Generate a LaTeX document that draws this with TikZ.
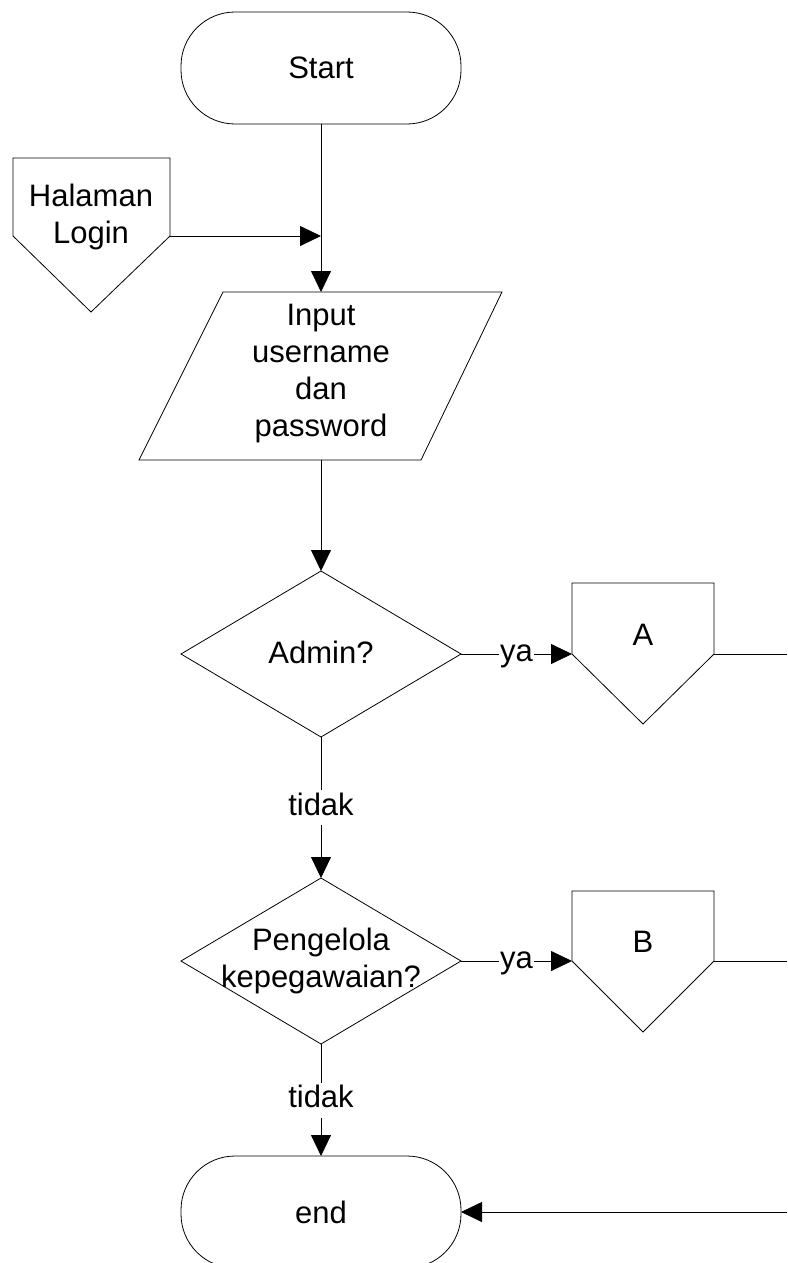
\documentclass[tikz,border=0pt]{standalone}
\usepackage{fontspec}
\setmainfont{Liberation Sans}
\usetikzlibrary{arrows.meta,shapes.geometric}
\begin{document}
\begin{tikzpicture}[x=1pt,y=-1pt, line width=0.8pt,
  every node/.style={font=\fontsize{31}{37}\selectfont},
  arr/.style={-{Triangle[length=21pt,width=20pt]}},
  term/.style={draw, rounded corners=54pt, minimum width=280pt, minimum height=112pt, inner sep=0pt, outer sep=0pt},
  dec/.style={draw, diamond, minimum width=280pt, minimum height=166pt, inner sep=0pt, outer sep=0pt},
  txt/.style={align=center, inner sep=0pt},
  lbl/.style={fill=white, inner xsep=1.5pt, inner ysep=3pt, text height=22pt, text depth=7pt},
  outline/.style={draw, line join=miter}
]
\useasboundingbox (0,0) rectangle (787,1263);
\clip (0,0) rectangle (787,1263);

% Start
\node[term] (start) at (321,68) {Start};

% Halaman Login (off-page connector)
\draw[outline] (13,158) -- (170,158) -- (170,236) -- (91,312) -- (13,236) -- cycle;
\node[txt] (hl) at (91,217) {Halaman\\Login};
\coordinate (hl-r) at (170,236);
\coordinate (join) at (321,236);

% Input parallelogram
\draw[outline] (223,292) -- (502,292) -- (421,460) -- (139,460) -- cycle;
\node[txt] (input) at (321,374) {Input\\username\\dan\\password};
\coordinate (in-top) at (321,292);
\coordinate (in-bot) at (321,460);

% Admin decision
\node[dec] (admin) at (321,654) {};
\node[txt] (admin-t) at (321,652) {Admin?};

% A connector
\draw[outline] (572,583) -- (714,583) -- (714,654) -- (643,724) -- (572,654) -- cycle;
\node[txt] (a) at (643,635) {A};
\coordinate (a-l) at (572,654);
\coordinate (a-r) at (714,654);
\coordinate (a-out) at (787,654);

% Pengelola decision
\node[dec] (peng) at (321,961) {};
\node[txt] (peng-t) at (321,961) {Pengelola\\kepegawaian?};

% B connector
\draw[outline] (572,891) -- (714,891) -- (714,961) -- (643,1032) -- (572,961) -- cycle;
\node[txt] (b) at (643,942) {B};
\coordinate (b-l) at (572,961);
\coordinate (b-r) at (714,961);
\coordinate (b-out) at (787,961);

% End
\node[term] (end) at (321,1212) {end};
\coordinate (e-in) at (787,1212);

% Connectors
\draw[arr] (start.south) -- (in-top);
\draw[arr] (hl-r) -- (join);
\draw[arr] (in-bot) -- (admin.north);
\draw[arr] (admin.east) -- node[lbl] {ya} (a-l);
\draw (a-r) -- (a-out);
\draw[arr] (admin.south) -- node[lbl] {tidak} (peng.north);
\draw[arr] (peng.east) -- node[lbl] {ya} (b-l);
\draw (b-r) -- (b-out);
\draw[arr] (peng.south) -- node[lbl] {tidak} (end.north);
\draw[arr] (e-in) -- (end.east);
\end{tikzpicture}
\end{document}
